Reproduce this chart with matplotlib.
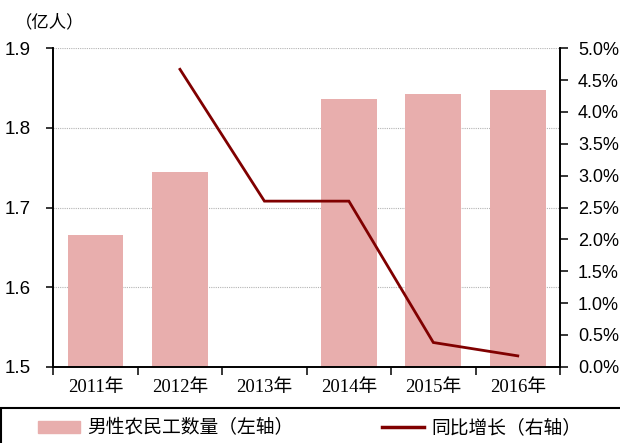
import numpy as np
import matplotlib
matplotlib.use('Agg')
from matplotlib import pyplot as plt
from matplotlib.patches import Rectangle
from matplotlib.ticker import FuncFormatter, MultipleLocator

years = ['2011年', '2012年', '2013年', '2014年', '2015年', '2016年']
male_workers = [1.665, 1.745, np.nan, 1.836, 1.843, 1.847]   # 亿人
yoy_growth = [np.nan, 4.67, 2.60, 2.60, 0.38, 0.17]          # %

BAR_COLOR = '#E8AEAD'
LINE_COLOR = '#800000'
CJK = ['Noto Sans CJK SC', 'DejaVu Sans']

fig = plt.figure(figsize=(6.2, 4.43), dpi=100)
ax = fig.add_axes([53.3 / 620, 1 - 366.7 / 443, 506.7 / 620, 318.4 / 443])
ax2 = ax.twinx()

x = np.arange(len(years))
ax.bar(x, male_workers, width=0.66, color=BAR_COLOR, zorder=2)
ax2.plot(x, yoy_growth, color=LINE_COLOR, lw=2.0, solid_joinstyle='miter')

ax.set_xlim(-0.5, len(years) - 0.5)
ax.set_ylim(1.5, 1.9)
ax2.set_ylim(0, 5)

# category boundaries get the tick marks, labels sit between them
ax.set_xticks(np.arange(len(years) + 1) - 0.5)
ax.set_xticklabels([])
ax.set_xticks(x, minor=True)
ax.set_xticklabels(years, minor=True, family=['Liberation Serif'] + CJK, fontsize=13.5)
ax.tick_params(axis='x', which='major', direction='out', length=6, width=1.1)
ax.tick_params(axis='x', which='minor', length=0, pad=9)

ax.yaxis.set_major_locator(MultipleLocator(0.1))
ax.yaxis.set_major_formatter(FuncFormatter(lambda v, p: '%.1f' % v))
ax.tick_params(axis='y', direction='out', length=5, width=1.1, pad=11)
for lbl in ax.get_yticklabels():
    lbl.set_family('Liberation Sans')
    lbl.set_fontsize(13.5)

ax2.yaxis.set_major_locator(MultipleLocator(0.5))
ax2.yaxis.set_major_formatter(FuncFormatter(lambda v, p: '%.1f%%' % v))
ax2.tick_params(axis='y', direction='out', length=6, width=1.1, pad=7)
for lbl in ax2.get_yticklabels():
    lbl.set_family('Liberation Sans')
    lbl.set_fontsize(13)

ax.grid(axis='y', color='#B4B4B4', linestyle=(0, (1, 1)), lw=0.8, zorder=0)
ax.set_axisbelow(True)

for a in (ax, ax2):
    a.spines['top'].set_visible(False)
    for s in ('left', 'right', 'bottom'):
        a.spines[s].set_linewidth(1.2)
        a.spines[s].set_color('black')

fig.text(15 / 620, 1 - 22.5 / 443, '（亿人）', family=CJK, fontsize=12.5,
         va='center', ha='left')

# legend frame runs off the bottom and right edges of the picture
fig.patches.append(Rectangle((1 / 620, -0.2), 1.2, 0.2 + 1 - 407.7 / 443,
                             transform=fig.transFigure, fill=False,
                             edgecolor='black', lw=1.5))

bars_handle = Rectangle((0, 0), 1, 1, color=BAR_COLOR)
line_handle = plt.Line2D([0], [0], color=LINE_COLOR, lw=2.5)
leg_y = 1 - 428 / 443
for handle, label, lx in [(bars_handle, '男性农民工数量（左轴）', 38),
                          (line_handle, '同比增长（右轴）', 382)]:
    leg = fig.legend([handle], [label], loc='center left',
                     bbox_to_anchor=(lx / 620, leg_y), frameon=False,
                     borderpad=0, borderaxespad=0, handlelength=2.25,
                     handleheight=0.55, handletextpad=0.4,
                     prop={'family': CJK, 'size': 13.5})

fig.savefig('out.png', dpi=100)
